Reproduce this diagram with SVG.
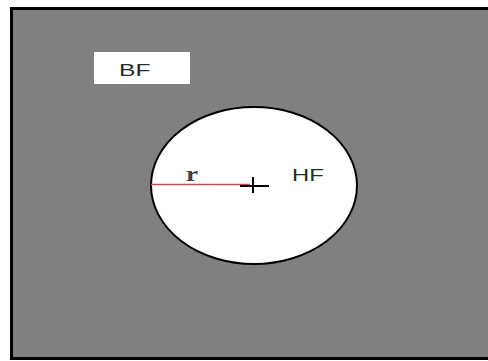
<svg xmlns="http://www.w3.org/2000/svg" width="488" height="361" viewBox="0 0 488 361">
<style>
.lbl{font-family:"Liberation Sans",Arial,sans-serif;font-size:17px;fill:#2a2a2a}
</style>
<rect width="488" height="361" fill="#fff"/>
<g id="plate"><rect x="11.5" y="8.5" width="480" height="350" fill="#808080" stroke="#000" stroke-width="3"/></g>
<g id="bf"><rect x="94" y="52" width="96" height="32" fill="#fff"/><text class="lbl" transform="translate(119 76) scale(1.45 1)">BF</text></g>
<g id="hole"><ellipse cx="254" cy="185.5" rx="103" ry="78.5" fill="#fff" stroke="#000" stroke-width="2"/>
<text class="lbl" transform="translate(292 181) scale(1.4 1)">HF</text></g>
<g id="connectors">
<line x1="151" y1="184.5" x2="250" y2="184.5" stroke="#c0504d" stroke-width="1.3"/>
<line x1="240" y1="186" x2="269" y2="186" stroke="#000" stroke-width="2"/>
<line x1="253" y1="177" x2="253" y2="193" stroke="#000" stroke-width="2"/>
<text transform="translate(186 181) scale(1.3 1)" font-family="Liberation Serif,serif" font-size="21" font-weight="bold" fill="#4a3a3a">r</text>
</g>
</svg>
